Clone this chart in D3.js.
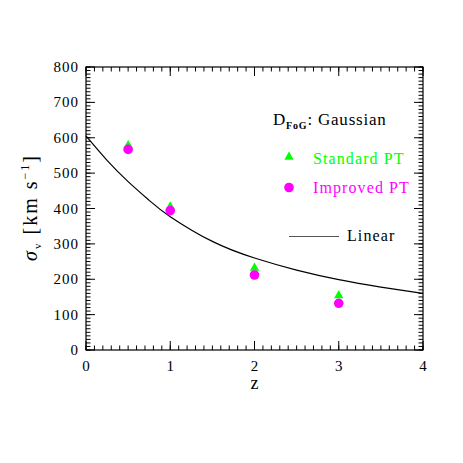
<!DOCTYPE html>
<html>
<head>
<meta charset="utf-8">
<script src="https://cdn.jsdelivr.net/npm/d3@7"></script>
<style>
  body { margin: 0; background: #fff; }
  text { font-family: "Liberation Serif", "DejaVu Serif", serif; }
</style>
</head>
<body>
<script>
// measured points
var zPoints = [0.5, 1, 2, 3];
var standardPT = [578, 405, 232, 154];
var improvedPT = [567, 394, 212, 132];

// linear theory curve
var linearZ = [0, 0.25, 0.5, 0.75, 1, 1.5, 2, 2.5, 3, 3.5, 4];
var linearSigma = [605, 536, 476, 423, 377, 307, 260, 226, 199, 178, 160];

var xTicks = [0, 1, 2, 3, 4];
var yTicks = [0, 100, 200, 300, 400, 500, 600, 700, 800];

var svg = d3.select('body').append('svg')
  .attr('width', 463)
  .attr('height', 463)

var margin = { top: 67, right: 40, bottom: 113, left: 86 },
  width = 463 - margin.left - margin.right,
  height = 463 - margin.top - margin.bottom,
  g = svg.append("g").attr("transform", "translate(" + margin.left + "," + margin.top + ")");

var x = d3.scaleLinear().domain([0, 4]).range([0, width]);
var y = d3.scaleLinear().domain([0, 800]).range([height, 0]);

var xMinor = d3.range(0, 41).map(function (i) { return i / 10; });
var yMinor = d3.range(0, 81).map(function (i) { return i * 10; });

function ticks(sel, vals, scale, horiz, len) {
  sel.append('g').selectAll(null)
    .data(vals)
    .enter().append('line')
    .attr('stroke', '#000')
    .attr('stroke-width', 1)
    .attr('x1', function (d) { return horiz ? scale(d) : 0; })
    .attr('x2', function (d) { return horiz ? scale(d) : len; })
    .attr('y1', function (d) { return horiz ? 0 : scale(d); })
    .attr('y2', function (d) { return horiz ? -len : scale(d); });
}

// ticks on all four sides, pointing inward
var bottomSide = g.append('g').attr('transform', 'translate(0,' + height + ')');
ticks(bottomSide, xMinor, x, true, 4.5);
ticks(bottomSide, xTicks, x, true, 9);
var topSide = g.append('g').attr('transform', 'scale(1,-1)');
ticks(topSide, xMinor, x, true, 4.5);
ticks(topSide, xTicks, x, true, 9);
var leftSide = g.append('g');
ticks(leftSide, yMinor, y, false, 4.5);
ticks(leftSide, yTicks, y, false, 9);
var rightSide = g.append('g').attr('transform', 'translate(' + width + ',0) scale(-1,1)');
ticks(rightSide, yMinor, y, false, 4.5);
ticks(rightSide, yTicks, y, false, 9);

g.append('rect')
  .attr('width', width)
  .attr('height', height)
  .attr('fill', 'none')
  .attr('stroke', '#000')
  .attr('stroke-width', 1.2)

g.append('g').selectAll('text')
  .data(xTicks)
  .enter().append('text')
  .attr('x', function (d) { return x(d); })
  .attr('y', height + 21)
  .style('text-anchor', 'middle')
  .style('font-size', '15px')
  .text(function (d) { return d; });

g.append('g').selectAll('text')
  .data(yTicks)
  .enter().append('text')
  .attr('x', -7)
  .attr('y', function (d) { return y(d); })
  .attr('dy', '0.34em')
  .style('text-anchor', 'end')
  .style('font-size', '15px')
  .style('letter-spacing', '1px')
  .text(function (d) { return d; });

// axis labels
g.append('text')
  .attr('x', width / 2)
  .attr('y', height + 39)
  .style('text-anchor', 'middle')
  .style('font-size', '18px')
  .text('z');

var ylab = g.append('text')
  .attr('transform', 'translate(-49,' + (y(400) - 1) + ') rotate(-90)')
  .style('text-anchor', 'middle')
  .style('font-size', '20px')
  .style('letter-spacing', '2px');
ylab.append('tspan').style('font-style', 'italic').text('σ');
ylab.append('tspan').attr('dy', 4).style('font-size', '11px').text('v');
ylab.append('tspan').attr('dy', -4).text(' [km  s');
ylab.append('tspan').attr('dy', -8).style('font-size', '12px').text('−1');
ylab.append('tspan').attr('dy', 8).text(']');

// linear curve
var line = d3.line()
  .x(function (d, i) { return x(linearZ[i]); })
  .y(function (d) { return y(d); })
  .curve(d3.curveNatural);

g.append('path')
  .attr('d', line(linearSigma))
  .attr('fill', 'none')
  .attr('stroke', '#000')
  .attr('stroke-width', 1.2)

var tri = d3.symbol().type(d3.symbolTriangle).size(38);

g.append('g').selectAll('path')
  .data(standardPT)
  .enter().append('path')
  .attr('d', tri)
  .attr('transform', function (d, i) { return 'translate(' + x(zPoints[i]) + ',' + y(d) + ')'; })
  .attr('fill', '#00ff00');

g.append('g').selectAll('circle')
  .data(improvedPT)
  .enter().append('circle')
  .attr('cx', function (d, i) { return x(zPoints[i]); })
  .attr('cy', function (d) { return y(d); })
  .attr('r', 4.8)
  .attr('fill', '#ff00ff');

// legend
var lg = svg.append('g');
var title = lg.append('text')
  .attr('x', 273)
  .attr('y', 125)
  .style('font-size', '17px')
  .style('letter-spacing', '0.8px');
title.append('tspan').text('D');
title.append('tspan').attr('dy', 4).style('font-size', '10px').style('font-weight', 'bold').text('FoG');
title.append('tspan').attr('dy', -4).text(': Gaussian');

lg.append('path')
  .attr('d', tri)
  .attr('transform', 'translate(289,157)')
  .attr('fill', '#00ff00');
lg.append('text')
  .attr('x', 313)
  .attr('y', 164)
  .attr('fill', '#00ff00')
  .style('font-size', '16px')
  .style('letter-spacing', '1.1px')
  .text('Standard PT');

lg.append('circle')
  .attr('cx', 289)
  .attr('cy', 187.5)
  .attr('r', 4.8)
  .attr('fill', '#ff00ff');
lg.append('text')
  .attr('x', 313)
  .attr('y', 193)
  .attr('fill', '#ff00ff')
  .style('font-size', '16px')
  .style('letter-spacing', '1.1px')
  .text('Improved PT');

lg.append('line')
  .attr('x1', 289)
  .attr('x2', 339)
  .attr('y1', 236.5)
  .attr('y2', 236.5)
  .attr('stroke', '#555')
  .attr('stroke-width', 1.2)
lg.append('text')
  .attr('x', 347)
  .attr('y', 241)
  .style('font-size', '16px')
  .style('letter-spacing', '1.1px')
  .text('Linear');
</script>
</body>
</html>
